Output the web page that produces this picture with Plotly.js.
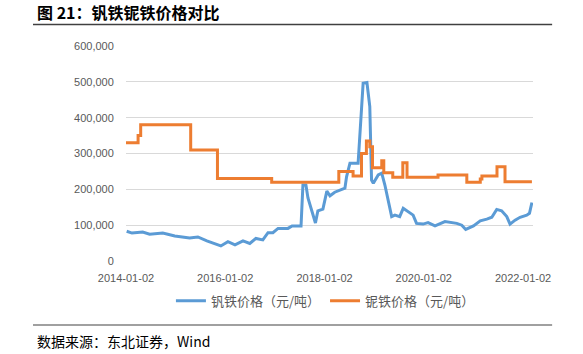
<!DOCTYPE html>
<html>
<head>
<meta charset="utf-8">
<script src="https://cdn.plot.ly/plotly-3.0.1.min.js"></script>
<style>html,body{margin:0;padding:0;background:#fff;}#chart{width:583px;height:354px;}</style>
</head>
<body>
<div id="chart"></div>
<script>
// Vanadium iron price (元/吨)
const vDates = ['2014-01-07','2014-02-15','2014-05-05','2014-06-25','2014-09-30','2014-12-27','2015-04-15','2015-06-15','2015-08-20','2015-10-18','2015-12-01','2016-01-22','2016-03-14','2016-05-12','2016-07-01','2016-08-15','2016-10-05','2016-11-12','2016-12-18','2017-01-25','2017-04-08','2017-05-08','2017-07-13','2017-07-27','2017-08-18','2017-09-02','2017-10-09','2017-10-27','2017-11-14','2017-12-21','2018-01-19','2018-02-11','2018-03-18','2018-04-23','2018-06-01','2018-06-13','2018-07-08','2018-09-06','2018-09-25','2018-10-13','2018-11-10','2018-12-01','2018-12-14','2018-12-27','2019-02-01','2019-02-27','2019-03-22','2019-04-16','2019-05-11','2019-06-04','2019-07-09','2019-08-04','2019-09-23','2019-10-16','2019-11-10','2019-12-28','2020-02-03','2020-03-25','2020-06-06','2020-09-01','2020-10-08','2020-11-06','2021-01-02','2021-02-21','2021-04-10','2021-05-17','2021-06-22','2021-07-28','2021-09-04','2021-09-28','2021-11-04','2021-12-11','2022-01-29','2022-02-18','2022-03-08'];
const vValues = [83000,78000,81000,75000,78000,70000,64000,67000,56000,47000,42000,54000,45000,56000,49000,63000,59000,79000,79000,91000,91000,98000,98000,212000,212000,176000,124000,106000,140000,145000,195000,182000,192000,198000,203000,235000,273000,273000,394000,496000,498000,431000,226000,217000,240000,245000,212000,170000,124000,128000,124000,147000,133000,128000,105000,103000,107000,98000,110000,105000,100000,88000,98000,112000,117000,122000,144000,140000,124000,103000,114000,122000,128000,133000,163000];
// Niobium iron price (元/吨)
const nDates = ['2014-01-02','2014-04-01','2014-04-20','2015-04-23','2015-11-06','2016-12-09','2018-04-17','2018-07-31','2018-10-01','2018-11-06','2018-12-01','2018-12-21','2019-02-27','2019-03-14','2019-05-19','2019-08-01','2019-09-01','2020-04-16','2020-08-04','2020-11-14','2021-02-21','2021-03-05','2021-06-24','2021-08-22','2022-03-08'];
const nValues = [330000,350000,380000,310000,230000,220000,250000,237000,300000,335000,319000,260000,280000,246000,234000,274000,234000,240000,240000,220000,229000,237000,263000,221000,221000];

const tickDates = ['2014-01-02','2016-01-02','2018-01-02','2020-01-02','2022-01-02'];
const tickLabels = ['2014-01-02','2016-01-02','2018-01-02','2020-01-02','2022-01-02'];
const yTicks = [0,100000,200000,300000,400000,500000,600000];

const names = ['钒铁价格（元/吨）','铌铁价格（元/吨）'];

const traces = [
  {x: vDates, y: vValues, name: names[0], type:'scatter', mode:'lines', line:{color:'#5B9BD5', width:3, shape:'linear'}},
  {x: nDates, y: nValues, name: names[1], type:'scatter', mode:'lines', line:{color:'#ED7D31', width:3, shape:'hv'}}
];

const cjk = '"Noto Sans CJK SC", "Noto Sans", sans-serif';
const layout = {
  width:583, height:354,
  margin:{l:126, r:50, t:46, b:93},
  paper_bgcolor:'#fff', plot_bgcolor:'#fff',
  font:{family:'"Liberation Sans", Arial, sans-serif', size:11, color:'#595959'},
  showlegend:true,
  legend:{orientation:'h', x:0.49, xanchor:'center', y:-0.115, yanchor:'top', itemwidth:30, font:{family:cjk, size:13, color:'#595959'}},
  xaxis:{type:'date', range:['2014-01-02','2022-03-16'], tickvals:tickDates, ticktext:tickLabels, showgrid:false, showline:false, zeroline:false, ticks:'outside', ticklen:7, tickcolor:'rgba(0,0,0,0)', tickfont:{size:11, color:'#595959'}},
  yaxis:{range:[0,600000], tickvals:yTicks, tickformat:',d', showgrid:true, gridcolor:'#D9D9D9', gridwidth:1, zeroline:false, showline:false, ticks:'outside', ticklen:9, tickcolor:'rgba(0,0,0,0)', tickfont:{size:11, color:'#595959'}},
  shapes:[
    {type:'line', xref:'paper', yref:'paper', x0:-0.2285, x1:1.047, y0:1.1, y1:1.1, line:{color:'#404040', width:1.5}},
    {type:'line', xref:'paper', yref:'paper', x0:-0.2285, x1:1.047, y0:-0.298, y1:-0.298, line:{color:'#808080', width:1.5}}
  ],
  annotations:[
    {xref:'paper', yref:'paper', x:-0.2235, y:1.16, xanchor:'left', yanchor:'middle', showarrow:false, text:'<b>图 21：钒铁铌铁价格对比</b>', font:{family:cjk, size:16, color:'#000'}},
    {xref:'paper', yref:'paper', x:-0.2235, y:-0.372, xanchor:'left', yanchor:'middle', showarrow:false, text:'数据来源：东北证券，Wind', font:{family:cjk, size:14, color:'#000'}}
  ]
};
Plotly.newPlot('chart', traces, layout, {displayModeBar:false, staticPlot:true});
</script>
</body>
</html>
